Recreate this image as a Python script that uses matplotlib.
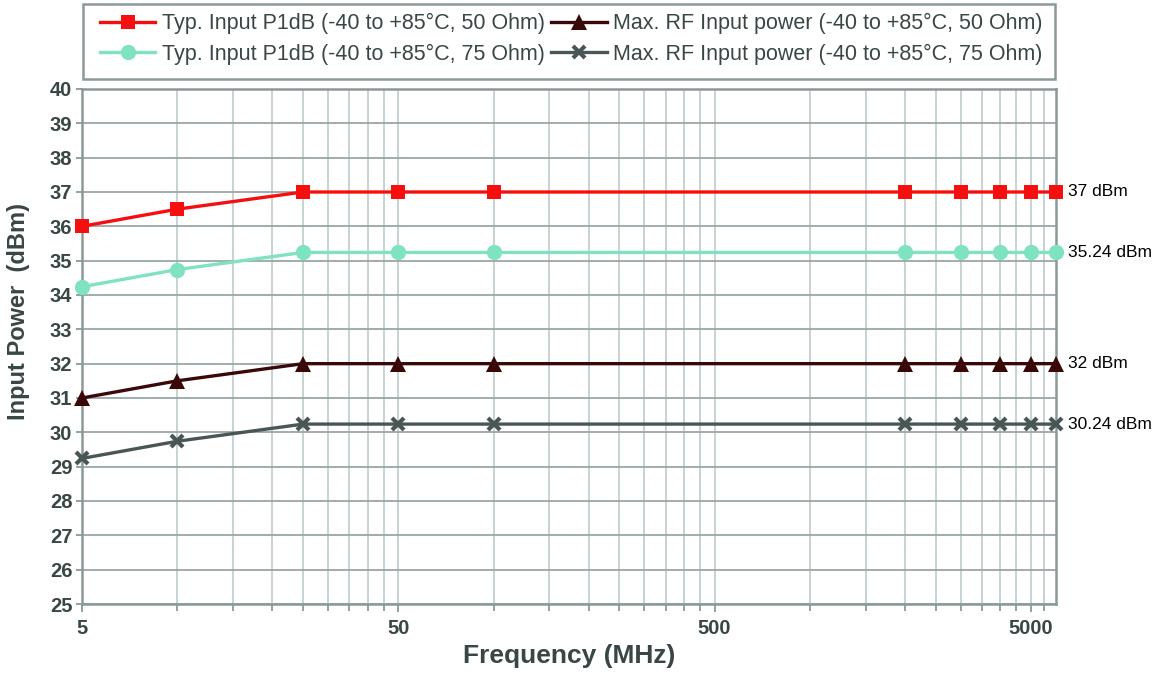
import matplotlib
matplotlib.use("Agg")
import matplotlib.pyplot as plt
from matplotlib.patches import Rectangle
from matplotlib.ticker import FixedLocator, NullFormatter, FixedFormatter

plt.rcParams['font.family'] = ['Liberation Sans', 'DejaVu Sans']

freq = [5, 10, 25, 50, 100, 2000, 3000, 4000, 5000, 6000]
p1db_50 = [36, 36.5, 37, 37, 37, 37, 37, 37, 37, 37]
p1db_75 = [34.24, 34.74, 35.24, 35.24, 35.24, 35.24, 35.24, 35.24, 35.24, 35.24]
maxrf_50 = [31, 31.5, 32, 32, 32, 32, 32, 32, 32, 32]
maxrf_75 = [29.24, 29.74, 30.24, 30.24, 30.24, 30.24, 30.24, 30.24, 30.24, 30.24]

labels = ["Typ. Input P1dB (-40 to +85°C, 50 Ohm)",
          "Typ. Input P1dB (-40 to +85°C, 75 Ohm)",
          "Max. RF Input power (-40 to +85°C, 50 Ohm)",
          "Max. RF Input power (-40 to +85°C, 75 Ohm)"]
end_labels = ["37 dBm", "35.24 dBm", "32 dBm", "30.24 dBm"]
x_major = [5, 50, 500, 5000]
x_major_labels = ["5", "50", "500", "5000"]
y_ticks = list(range(25, 41))

W, H = 1163, 675
txt = '#3a4646'
fig = plt.figure(figsize=(W/100, H/100), dpi=100)
ax = fig.add_axes([82/W, 1-604/H, (1056-82)/W, (604-89)/H])

series = [
    (p1db_50, '#f50f0f', 's', 10),
    (p1db_75, '#7fe2c0', 'o', 11),
    (maxrf_50, '#3a0808', '^', 11),
    (maxrf_75, '#4a5656', 'x', 9),
]
handles = []
for (vals, col, mk, ms), lab in zip(series, labels):
    kw = dict(markeredgewidth=3) if mk == 'x' else dict(markeredgewidth=0)
    h, = ax.plot(freq, vals, color=col, lw=2.4, marker=mk, markersize=ms,
                 label=lab, clip_on=False, zorder=3, **kw)
    handles.append(h)

ax.set_xscale('log')
ax.set_xlim(5, 6000)
ax.set_ylim(25, 40)
minor = []
for base in [5, 50, 500]:
    for k in range(2, 10):
        minor.append(base * k)
minor.append(5500)
minor = [m for m in minor if m < 6000]
ax.xaxis.set_major_locator(FixedLocator(x_major))
ax.xaxis.set_major_formatter(FixedFormatter(x_major_labels))
ax.xaxis.set_minor_locator(FixedLocator(minor))
ax.xaxis.set_minor_formatter(NullFormatter())
ax.set_yticks(y_ticks)

ax.grid(True, axis='x', which='both', color='#c3cfcf', lw=1.3, zorder=1)
ax.grid(True, axis='y', which='major', color='#9aa6a6', lw=1.3, zorder=1)
ax.set_axisbelow(True)
for s in ax.spines.values():
    s.set_color('#8c9999')
    s.set_linewidth(1.8)

ax.tick_params(axis='both', which='both', colors='#8c9999', labelcolor=txt,
               labelsize=14.5, width=1.3)
ax.tick_params(axis='x', which='major', length=6, pad=5)
ax.tick_params(axis='x', which='minor', length=5)
ax.tick_params(axis='y', length=4, pad=3)
for t in ax.get_xticklabels() + ax.get_yticklabels():
    t.set_fontweight('bold')

ax.set_xlabel('Frequency (MHz)', fontsize=19, fontweight='bold', color=txt, labelpad=4)
fig.text(19/W, 1-312/H, 'Input Power  (dBm)', rotation=90, ha='center', va='center',
         fontsize=17, fontweight='bold', color=txt)

for vals, lab in zip([p1db_50, p1db_75, maxrf_50, maxrf_75], end_labels):
    ax.annotate(lab, xy=(freq[-1], vals[-1]), xytext=(9, 0), textcoords='offset points',
                va='center', ha='left', fontsize=12.5, color='black')

fig.patches.append(Rectangle((83/W, 1-79/H), (1055-83)/W, (79-4)/H,
                             transform=fig.transFigure, facecolor='white',
                             edgecolor='#8c9999', lw=1.8, zorder=0))
leg = fig.legend(handles=handles, labels=labels, ncol=2, loc='center',
                 bbox_to_anchor=(571/W, 1-39/H),
                 fontsize=15.5, frameon=False, handlelength=2.6,
                 handletextpad=0.28, columnspacing=0.3, labelspacing=0.45,
                 borderpad=0.2, labelcolor=txt)

fig.savefig('out.png', dpi=100)
